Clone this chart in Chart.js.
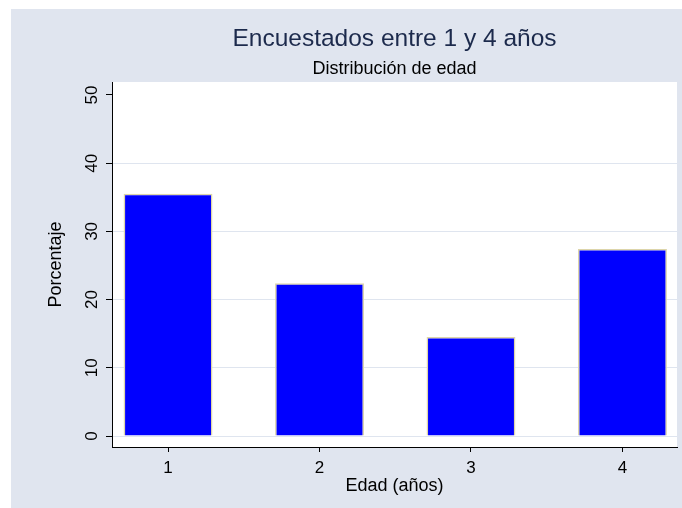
<!DOCTYPE html>
<html lang="es">
<head>
  <meta charset="UTF-8" />
  <title>Encuestados entre 1 y 4 años</title>
  <style>
    html, body {
      margin: 0;
      background: #ffffff;
      overflow: hidden;
    }
    .wrap {
      position: absolute;
      left: 11px;
      top: 9px;
      width: 671px;
      height: 499px;
      background: #e0e5ef;
    }
  </style>
</head>
<body>
  <div class="wrap">
    <canvas id="grafico" width="671" height="499"></canvas>
  </div>

  <script src="https://cdn.jsdelivr.net/npm/chart.js"></script>
  <script>
    // datos
    const edades = [1, 2, 3, 4];
    const porcentajes = [35.5, 22.4, 14.5, 27.4];
    const ticksY = [0, 10, 20, 30, 40, 50];

    const fuente = "'Liberation Sans', Arial, sans-serif";
    const rejilla = '#dfe5ef';

    // fondo blanco del área de trazado
    const fondoPlot = {
      id: 'fondoPlot',
      beforeDraw(chart) {
        const { ctx, chartArea: a } = chart;
        ctx.save();
        ctx.fillStyle = '#ffffff';
        ctx.fillRect(a.left, a.top, a.right - a.left, a.bottom - a.top);
        ctx.restore();
      }
    };

    // etiquetas del eje Y giradas, como en Stata
    const etiquetasY = {
      id: 'etiquetasY',
      afterDraw(chart) {
        const { ctx } = chart;
        const y = chart.scales.y;
        ctx.save();
        ctx.fillStyle = '#000000';
        ctx.font = '17px ' + fuente;
        ctx.textAlign = 'center';
        ctx.textBaseline = 'middle';
        y.ticks.forEach(t => {
          ctx.save();
          ctx.translate(81.5, y.getPixelForValue(t.value));
          ctx.rotate(-Math.PI / 2);
          ctx.fillText(String(t.value), 0, 0);
          ctx.restore();
        });
        ctx.restore();
      }
    };

    new Chart(document.getElementById('grafico'), {
      type: 'bar',
      data: {
        datasets: [{
          data: edades.map((e, i) => ({ x: e, y: porcentajes[i] })),
          backgroundColor: '#0000ff',
          borderColor: '#ddd5aa',
          borderWidth: 1.5,
          categoryPercentage: 1,
          barPercentage: 0.587
        }]
      },
      plugins: [fondoPlot, etiquetasY],
      options: {
        responsive: false,
        animation: false,
        layout: { padding: { left: 0, right: 5, top: 0, bottom: 0 } },
        plugins: {
          legend: { display: false },
          tooltip: { enabled: false },
          title: {
            display: true,
            text: 'Encuestados entre 1 y 4 años',
            fullSize: false,
            color: '#1c2a4c',
            font: { family: fuente, size: 24.5, weight: 'normal' },
            padding: { top: 16, bottom: 3 }
          },
          subtitle: {
            display: true,
            text: 'Distribución de edad',
            fullSize: false,
            color: '#000000',
            font: { family: fuente, size: 18, weight: 'normal' },
            padding: { top: 1, bottom: 2 }
          }
        },
        scales: {
          x: {
            type: 'linear',
            offset: false,
            min: 0.63,
            max: 4.36,
            afterBuildTicks: s => { s.ticks = edades.map(v => ({ value: v })); },
            afterFit: s => { s.height = 61; },
            grid: {
              offset: false,
              drawOnChartArea: false,
              drawTicks: true,
              tickLength: 5,
              tickColor: '#000000'
            },
            border: { display: true, color: '#000000', width: 1 },
            ticks: {
              color: '#000000',
              font: { family: fuente, size: 17 },
              padding: 6,
              maxRotation: 0
            },
            title: {
              display: true,
              text: 'Edad (años)',
              color: '#000000',
              font: { family: fuente, size: 18 },
              padding: 11
            }
          },
          y: {
            min: -1.61,
            max: 51.9,
            afterBuildTicks: s => { s.ticks = ticksY.map(v => ({ value: v })); },
            afterFit: s => { s.width = 101; },
            grid: {
              color: c => (c.tick && c.tick.value === 50) ? 'rgba(0,0,0,0)' : rejilla,
              lineWidth: 1,
              drawTicks: true,
              tickLength: 6,
              tickColor: '#000000'
            },
            border: { display: true, color: '#000000', width: 1 },
            ticks: { display: false },
            title: {
              display: true,
              text: 'Porcentaje',
              color: '#000000',
              font: { family: fuente, size: 18 },
              padding: 34
            }
          }
        }
      }
    });
  </script>
</body>
</html>
